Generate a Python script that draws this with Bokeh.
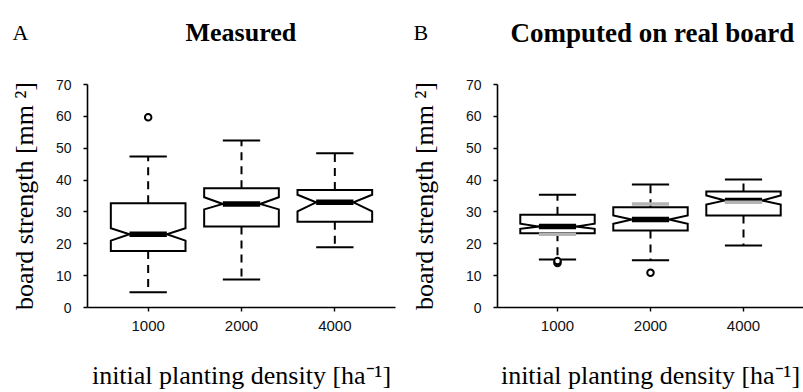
from bokeh.plotting import figure
from bokeh.layouts import row, column
from bokeh.models import Range1d, FixedTicker
from bokeh.core.properties import value
from bokeh.embed import file_html
from bokeh.resources import INLINE

# ---------------- data ----------------
densities = ["1000", "2000", "4000"]
y_ticks = [0, 10, 20, 30, 40, 50, 60, 70]

# Panel A: measured
meas_q1 = [17.7, 25.4, 26.9]
meas_med = [23.0, 32.5, 33.0]
meas_q3 = [32.7, 37.4, 36.9]
meas_notch_lo = [21.0, 30.8, 30.2]
meas_notch_hi = [24.9, 34.6, 35.4]
meas_whisk_lo = [4.8, 8.8, 18.9]
meas_whisk_hi = [47.4, 52.4, 48.4]
meas_out_group = ["1000"]
meas_out_value = [59.7]

# Panel B: computed on real board
comp_q1 = [23.3, 24.2, 28.9]
comp_med = [25.4, 27.6, 33.6]
comp_q3 = [29.1, 31.5, 36.4]
comp_notch_lo = [24.7, 26.3, 32.3]
comp_notch_hi = [26.3, 28.9, 35.2]
comp_whisk_lo = [15.1, 14.8, 19.5]
comp_whisk_hi = [35.4, 38.6, 40.2]
comp_out_group = ["1000", "1000", "2000"]
comp_out_value = [14.0, 14.6, 10.9]

panel_letters = ["A", "B"]
panel_titles = ["Measured", "Computed on real board"]
y_title = "board strength [mm \u00b2]"
x_title = "initial planting density [ha\u207b\u00b9]"

SERIF = "Liberation Serif"
SANS = "Liberation Sans"
W = 803
HEAD_H = 50
PANEL_H = 342
Y_MAX = 70

# ---------------- header with the panel titles ----------------
head = figure(width=W, height=HEAD_H, output_backend="svg", toolbar_location=None,
              x_range=Range1d(0, W), y_range=Range1d(HEAD_H, 0),
              x_axis_location=None, y_axis_location=None,
              min_border_left=0, min_border_right=0, min_border_top=0,
              min_border_bottom=0, background_fill_color="white",
              border_fill_color="white")
head.outline_line_color = None
head.grid.visible = False
head.text(x=[12, 413], y=[32, 32], text=panel_letters, text_font=value(SERIF),
          text_font_size="22px", text_color="black", text_baseline="alphabetic",
          text_align="left")
head.text(x=[185, 510], y=[32, 32], text=panel_titles, text_font=value(SERIF),
          text_font_size=["26px", "27px"], text_font_style="bold",
          text_color="black", text_baseline="alphabetic", text_align="left")


def panel(width, bl, br, x_lo, x_hi, q1, med, q3, nlo, nhi, wlo, whi,
          out_g, out_v, ref_med=None, ylab_standoff=14):
    p = figure(width=width, height=PANEL_H, output_backend="svg",
               toolbar_location=None,
               x_range=Range1d(x_lo, x_hi), y_range=Range1d(0, Y_MAX),
               min_border_left=bl, min_border_right=br,
               min_border_top=34, min_border_bottom=85,
               background_fill_color="white", border_fill_color="white")
    p.outline_line_color = None
    p.grid.visible = False

    xs_pos = [i + 1 for i in range(len(densities))]
    w = 0.4
    wn = 0.2
    ws = 0.2

    # whiskers
    p.segment(x0=xs_pos, y0=q3, x1=xs_pos, y1=whi, line_color="black",
              line_width=2, line_dash="8 6")
    p.segment(x0=xs_pos, y0=q1, x1=xs_pos, y1=wlo, line_color="black",
              line_width=2, line_dash="8 6")
    # staples
    p.segment(x0=[x - ws for x in xs_pos], y0=whi, x1=[x + ws for x in xs_pos],
              y1=whi, line_color="black", line_width=2)
    p.segment(x0=[x - ws for x in xs_pos], y0=wlo, x1=[x + ws for x in xs_pos],
              y1=wlo, line_color="black", line_width=2)

    # notched boxes
    pxs, pys = [], []
    for i, x in enumerate(xs_pos):
        pxs.append([x - w, x - w, x - wn, x - w, x - w, x + w, x + w, x + wn, x + w, x + w])
        pys.append([q1[i], nlo[i], med[i], nhi[i], q3[i], q3[i], nhi[i], med[i], nlo[i], q1[i]])
    p.patches(xs=pxs, ys=pys, fill_color="white", line_color="black",
              line_width=2, line_join="miter")
    # medians
    p.segment(x0=[x - wn for x in xs_pos], y0=med, x1=[x + wn for x in xs_pos],
              y1=med, line_color="black", line_width=5.5)
    if ref_med is not None:
        p.segment(x0=[x - wn for x in xs_pos], y0=ref_med,
                  x1=[x + wn for x in xs_pos], y1=ref_med,
                  line_color="#b4b4b4", line_width=3.5)
    # outliers
    ox = [densities.index(g) + 1 for g in out_g]
    p.scatter(x=ox, y=out_v, marker="circle", size=6.5, fill_color="white",
              line_color="black", line_width=2)

    # axes
    for ax in (p.xaxis[0], p.yaxis[0]):
        ax.axis_line_color = "black"
        ax.axis_line_width = 1.6
        ax.major_tick_line_color = "black"
        ax.major_tick_line_width = 1.4
        ax.major_tick_in = 0
        ax.major_tick_out = 4
        ax.minor_tick_line_color = None
        ax.major_label_text_font = SANS
        ax.major_label_text_color = "#111111"
        ax.axis_label_text_font = SERIF
        ax.axis_label_text_font_size = "26px"
        ax.axis_label_text_font_style = "normal"
        ax.axis_label_text_color = "black"
    p.xaxis.ticker = FixedTicker(ticks=xs_pos)
    p.xaxis.major_label_overrides = {x: d for x, d in zip(xs_pos, densities)}
    p.xaxis.major_label_text_font_size = "15px"
    p.xaxis.major_label_standoff = 9
    p.xaxis.axis_label = x_title
    p.xaxis.axis_label_text_line_height = 0.9
    p.xaxis.axis_label_standoff = 27
    p.yaxis.ticker = FixedTicker(ticks=y_ticks)
    p.yaxis.major_label_text_font_size = "14px"
    p.yaxis.major_label_standoff = 12
    p.yaxis.axis_label = y_title
    p.yaxis.axis_label_standoff = ylab_standoff
    return p


p1 = panel(400, 87, 5, 0.35, 3.65, meas_q1, meas_med, meas_q3, meas_notch_lo,
           meas_notch_hi, meas_whisk_lo, meas_whisk_hi, meas_out_group,
           meas_out_value, None, 14)
p2 = panel(403, 97, 0, 0.355, 3.645, comp_q1, comp_med, comp_q3, comp_notch_lo,
           comp_notch_hi, comp_whisk_lo, comp_whisk_hi, comp_out_group,
           comp_out_value, meas_med, 24)

layout = column(head, row(p1, p2))
open("out.html", "w").write(file_html(layout, INLINE))
